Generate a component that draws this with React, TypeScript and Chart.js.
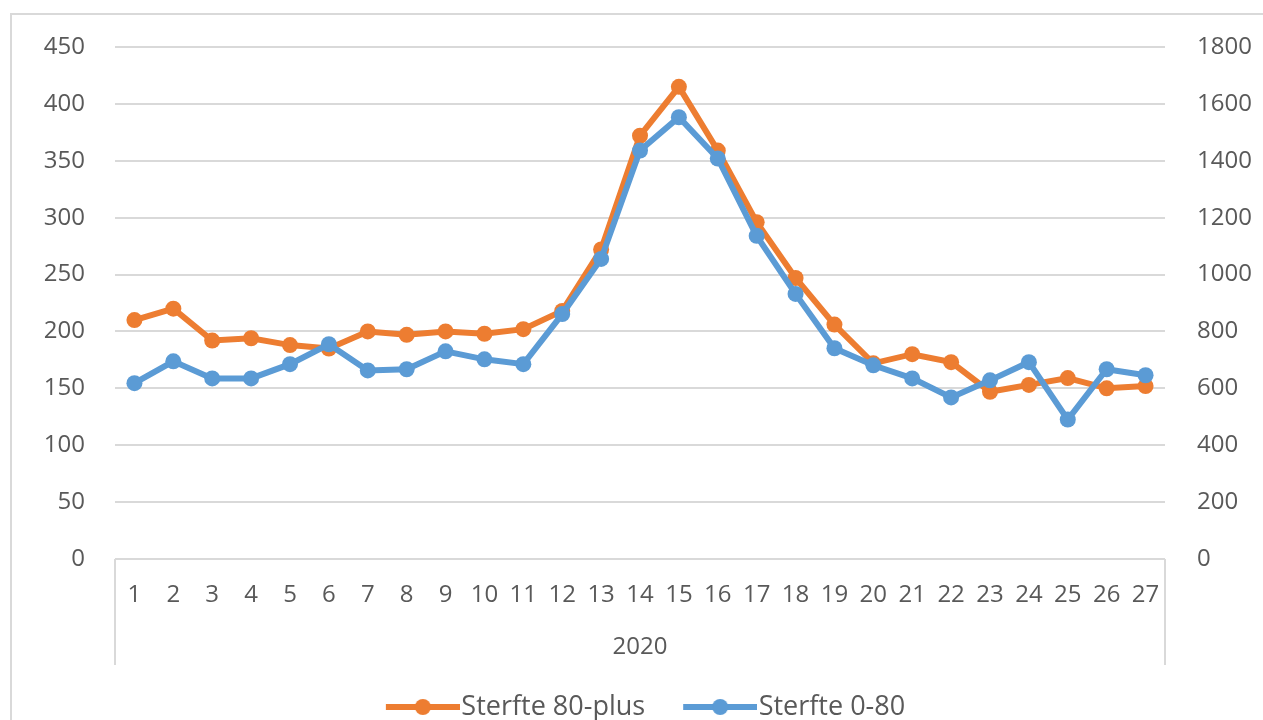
import React, { useEffect, useRef } from "react";
import { Chart, registerables } from "chart.js";

Chart.register(...registerables);

// ---- Data ----
const weeks = ["1", "2", "3", "4", "5", "6", "7", "8", "9", "10", "11", "12", "13", "14", "15", "16", "17", "18", "19", "20", "21", "22", "23", "24", "25", "26", "27"];
const groupLabel = "2020";
const sterfte80plus = [210, 220, 192, 194, 188, 185, 200, 197, 200, 198, 202, 218, 272, 372, 415, 359, 296, 247, 206, 172, 180, 173, 147, 153, 159, 150, 152];
const sterfte0to80 = [618, 695, 635, 635, 685, 755, 663, 667, 730, 702, 685, 861, 1055, 1436, 1553, 1408, 1136, 932, 741, 681, 635, 568, 628, 692, 490, 667, 646];
const seriesNames = ["Sterfte 80-plus", "Sterfte 0-80"];
const seriesColors = ["#ED7D31", "#5B9BD5"];
const leftAxis = { min: 0, max: 450, step: 50 };
const rightAxis = { min: 0, max: 1800, step: 200 };

const FONT = "'Open Sans', sans-serif";
const TEXT = "#595959";
const GRID = "#d9d9d9";
const TICK_SIZE = 24;
const LEGEND_SIZE = 27;

function legendSymbol(color: string): HTMLCanvasElement {
  // transparent left part shifts the visible symbol to the right of the legend box centre
  const c = document.createElement("canvas");
  c.width = 114;
  c.height = 20;
  const ctx = c.getContext("2d")!;
  ctx.strokeStyle = color;
  ctx.lineWidth = 6;
  ctx.beginPath();
  ctx.moveTo(40, 10);
  ctx.lineTo(114, 10);
  ctx.stroke();
  ctx.fillStyle = color;
  ctx.beginPath();
  ctx.arc(77, 10, 8, 0, Math.PI * 2);
  ctx.fill();
  return c;
}

const framePlugin = {
  id: "frame",
  beforeDraw(chart: any) {
    const ctx = chart.ctx;
    ctx.save();
    ctx.fillStyle = "#ffffff";
    ctx.fillRect(0, 0, chart.width, chart.height);
    ctx.strokeStyle = GRID;
    ctx.lineWidth = 2;
    ctx.strokeRect(11, 14, chart.width + 20, chart.height + 20);
    ctx.restore();
  },
  afterDraw(chart: any) {
    const ctx = chart.ctx;
    const area = chart.chartArea;
    const xs = chart.scales.x;
    ctx.save();
    ctx.strokeStyle = GRID;
    ctx.lineWidth = 2;
    ctx.beginPath();
    ctx.moveTo(area.left, area.bottom);
    ctx.lineTo(area.left, xs.bottom - 18.5);
    ctx.moveTo(area.right, area.bottom);
    ctx.lineTo(area.right, xs.bottom - 18.5);
    ctx.stroke();
    ctx.restore();
  },
};

export default function App() {
  const ref = useRef<HTMLCanvasElement | null>(null);

  useEffect(() => {
    document.body.style.margin = "0";
    const canvas = ref.current!;
    const symbols = seriesColors.map(legendSymbol);
    const chart = new Chart(canvas, {
      type: "line",
      data: {
        labels: weeks,
        datasets: [
          {
            label: seriesNames[0],
            data: sterfte80plus,
            yAxisID: "y",
            borderColor: seriesColors[0],
            backgroundColor: seriesColors[0],
            pointBackgroundColor: seriesColors[0],
            pointBorderWidth: 0,
            pointRadius: 8,
            borderWidth: 6,
            tension: 0,
            order: 1,
          },
          {
            label: seriesNames[1],
            data: sterfte0to80,
            yAxisID: "y1",
            borderColor: seriesColors[1],
            backgroundColor: seriesColors[1],
            pointBackgroundColor: seriesColors[1],
            pointBorderWidth: 0,
            pointRadius: 8,
            borderWidth: 6,
            tension: 0,
            order: 0,
          },
        ],
      },
      options: {
        responsive: false,
        animation: false,
        layout: { padding: { top: 47, left: 0, right: 0, bottom: -10.5 } },
        plugins: {
          tooltip: { enabled: false },
          legend: {
            position: "bottom",
            labels: {
              usePointStyle: true,
              pointStyleWidth: 90,
              padding: 10,
              color: TEXT,
              font: { family: FONT, size: LEGEND_SIZE },
              generateLabels: (ch: any) =>
                ch.data.datasets.map((ds: any, i: number) => ({
                  text: ds.label,
                  pointStyle: symbols[i],
                  fillStyle: ds.borderColor,
                  strokeStyle: ds.borderColor,
                  lineWidth: 0,
                  fontColor: TEXT,
                  datasetIndex: i,
                  hidden: false,
                })),
            },
          },
        },
        scales: {
          x: {
            offset: true,
            grid: { display: false, drawTicks: false },
            border: { display: false },
            ticks: {
              color: TEXT,
              font: { family: FONT, size: TICK_SIZE },
              padding: 22,
              autoSkip: false,
              maxRotation: 0,
            },
            title: {
              display: true,
              text: groupLabel,
              color: TEXT,
              font: { family: FONT, size: TICK_SIZE },
              padding: { top: 0, bottom: 22 },
            },
            afterFit: (s: any) => {
              s.height = 124.5;
            },
          },
          y: {
            position: "left",
            min: leftAxis.min,
            max: leftAxis.max,
            grid: { color: GRID, lineWidth: 2, drawTicks: false },
            border: { display: false },
            ticks: {
              stepSize: leftAxis.step,
              color: TEXT,
              font: { family: FONT, size: TICK_SIZE },
              padding: 30,
              callback: (v: any) => String(v),
            },
            afterFit: (s: any) => {
              s.width = 115;
            },
          },
          y1: {
            position: "right",
            min: rightAxis.min,
            max: rightAxis.max,
            grid: { display: false, drawTicks: false },
            border: { display: false },
            ticks: {
              stepSize: rightAxis.step,
              color: TEXT,
              font: { family: FONT, size: TICK_SIZE },
              padding: 32,
              callback: (v: any) => String(v),
            },
            afterFit: (s: any) => {
              s.width = 98;
            },
          },
        },
      },
      plugins: [framePlugin],
    } as any);
    return () => chart.destroy();
  }, []);

  return <canvas ref={ref} width={1263} height={720} style={{ display: "block" }} />;
}
